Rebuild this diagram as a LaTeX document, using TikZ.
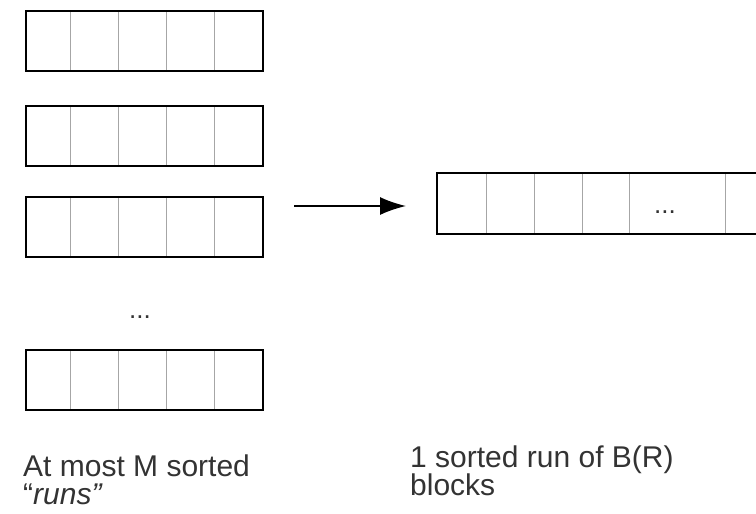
\documentclass[tikz,border=0pt]{standalone}
\usepackage{fontspec}
\setmainfont{Liberation Sans}
\usepackage{xcolor}
\usetikzlibrary{positioning, arrows.meta}

\begin{document}
\begin{tikzpicture}[x=1pt, y=-1pt,
    runbox/.style={draw, line width=1.7pt, minimum width=237pt, minimum height=60pt, inner sep=0pt, anchor=north west},
    cellline/.style={gray!70, line width=0.8pt},
    label/.style={inner sep=0pt, align=left, anchor=north west, text=black!80, font=\fontsize{30}{28}\selectfont}]
    \useasboundingbox (0,0) rectangle (756,514);

    % 1. Các đoạn đã sắp xếp bên trái
    \foreach \name/\top in {runA/10, runB/105, runC/196, runD/349} {
        \foreach \x in {70,118,166,214} {
            \draw[cellline] (\x,\top) -- ++(0,60);
        }
        \node[runbox] (\name) at (25,\top) {};
    }
    \node[anchor=base, text=black!80, font=\fontsize{26}{26}\selectfont] (dotsL) at (140,318) {...};

    % 2. Mũi tên trộn
    \coordinate (arrS) at (294,206);
    \coordinate (arrE) at (406,206);
    \draw[-{Latex[length=26pt, width=18pt]}, line width=1.6pt] (arrS) -- (arrE);

    % 3. Đoạn kết quả bên phải
    \foreach \x in {486,534,582,629,725} {
        \draw[cellline] (\x,172) -- ++(0,61);
    }
    \node[runbox, minimum width=340pt, minimum height=61pt] (merged) at (436,172) {};
    \node[anchor=base, text=black!80, font=\fontsize{26}{26}\selectfont] (dotsR) at (665,213) {...};

    % 4. Chú thích
    \node[label] (txtL) at (23,455) {At most M sorted\\“\textit{runs”}};
    \node[label] (txtR) at (410,446) {1 sorted run of B(R)\\blocks};
\end{tikzpicture}
\end{document}
